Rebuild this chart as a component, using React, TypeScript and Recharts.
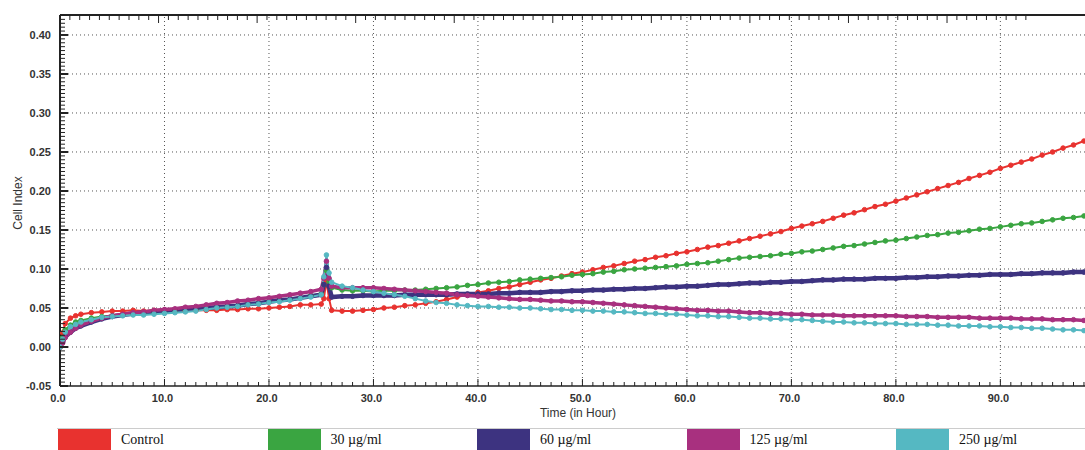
import { LineChart, Line, XAxis, YAxis, ReferenceLine } from 'recharts';

// sampling times (hours)
const HOURS = [
  0, 0.25, 0.5, 1, 1.5, 2,
  3, 4, 5, 6, 7, 8, 9, 10, 11, 12,
  13, 14, 15, 16, 17, 18, 19, 20, 21, 22,
  23, 24, 25,
  25.25, 25.5, 25.75, 26,
  27, 28, 29, 30, 31, 32, 33, 34, 35, 36,
  37, 38, 39, 40, 41, 42, 43, 44, 45, 46,
  47, 48, 49, 50, 51, 52, 53, 54, 55, 56,
  57, 58, 59, 60, 61, 62, 63, 64, 65, 66,
  67, 68, 69, 70, 71, 72, 73, 74, 75, 76,
  77, 78, 79, 80, 81, 82, 83, 84, 85, 86,
  87, 88, 89, 90, 91, 92, 93, 94, 95, 96,
  97, 98,
];

const CONTROL = [
  0, 0.018, 0.03, 0.037, 0.04, 0.042,
  0.044, 0.045, 0.046, 0.046, 0.047, 0.046, 0.047, 0.047, 0.047, 0.046,
  0.047, 0.047, 0.047, 0.048, 0.048, 0.049, 0.049, 0.05, 0.051, 0.052,
  0.054, 0.054, 0.055,
  0.062, 0.085, 0.062, 0.047,
  0.046, 0.046, 0.047, 0.048, 0.05, 0.051, 0.053, 0.054, 0.056, 0.058,
  0.061, 0.064, 0.067, 0.07, 0.072, 0.075, 0.077, 0.08, 0.083, 0.086,
  0.088, 0.091, 0.094, 0.096, 0.099, 0.102, 0.104, 0.107, 0.11, 0.112,
  0.115, 0.117, 0.12, 0.122, 0.125, 0.128, 0.13, 0.133, 0.136, 0.139,
  0.142, 0.145, 0.148, 0.152, 0.155, 0.158, 0.161, 0.165, 0.169, 0.172,
  0.176, 0.18, 0.183, 0.187, 0.191, 0.195, 0.199, 0.203, 0.207, 0.211,
  0.216, 0.22, 0.224, 0.229, 0.233, 0.237, 0.241, 0.246, 0.25, 0.255,
  0.259, 0.264,
];

const DOSE_30 = [
  0, 0.012, 0.022, 0.028, 0.032, 0.034,
  0.037, 0.039, 0.04, 0.041, 0.042, 0.043, 0.044, 0.045, 0.046, 0.047,
  0.048, 0.05, 0.051, 0.052, 0.053, 0.055, 0.056, 0.058, 0.06, 0.061,
  0.063, 0.066, 0.068,
  0.08, 0.098, 0.084, 0.076,
  0.073, 0.072, 0.072, 0.071, 0.072, 0.072, 0.073, 0.073, 0.074, 0.075,
  0.076, 0.077, 0.079, 0.08, 0.082, 0.083, 0.084, 0.086, 0.087, 0.088,
  0.089, 0.09, 0.092, 0.093, 0.094, 0.096, 0.097, 0.099, 0.1, 0.101,
  0.102, 0.103, 0.104, 0.106, 0.107, 0.108, 0.11, 0.112, 0.114, 0.115,
  0.116, 0.117, 0.119, 0.12, 0.122, 0.123, 0.125, 0.127, 0.129, 0.13,
  0.132, 0.134, 0.136, 0.137, 0.139, 0.141, 0.143, 0.144, 0.146, 0.147,
  0.149, 0.151, 0.152, 0.154, 0.156, 0.158, 0.159, 0.161, 0.163, 0.165,
  0.166, 0.168,
];

const DOSE_60 = [
  0, 0.006, 0.013, 0.019, 0.024, 0.027,
  0.032, 0.036, 0.039, 0.041, 0.043, 0.044, 0.045, 0.046, 0.047, 0.048,
  0.049, 0.05, 0.051, 0.052, 0.053, 0.055, 0.056, 0.058, 0.06, 0.061,
  0.063, 0.065, 0.067,
  0.08, 0.102, 0.078, 0.064,
  0.065, 0.065, 0.066, 0.066, 0.066, 0.066, 0.067, 0.067, 0.067, 0.067,
  0.067, 0.068, 0.068, 0.068, 0.068, 0.069, 0.069, 0.07, 0.07, 0.07,
  0.071, 0.071, 0.072, 0.072, 0.073, 0.073, 0.074, 0.074, 0.075, 0.075,
  0.076, 0.077, 0.077, 0.078, 0.078, 0.079, 0.08, 0.08, 0.081, 0.082,
  0.082, 0.083, 0.083, 0.084, 0.084, 0.085, 0.086, 0.086, 0.087, 0.087,
  0.087, 0.088, 0.088, 0.088, 0.089, 0.089, 0.09, 0.09, 0.091, 0.091,
  0.092, 0.092, 0.093, 0.093, 0.093, 0.094, 0.094, 0.095, 0.095, 0.095,
  0.096, 0.096,
];

const DOSE_125 = [
  0, 0.005, 0.012, 0.019, 0.024, 0.028,
  0.033, 0.037, 0.04, 0.042, 0.044, 0.045, 0.047, 0.048, 0.049, 0.051,
  0.052, 0.054, 0.056, 0.057, 0.059, 0.06, 0.062, 0.063, 0.065, 0.067,
  0.069, 0.071, 0.074,
  0.088, 0.11, 0.088, 0.078,
  0.076, 0.076, 0.076, 0.076, 0.075, 0.074, 0.073, 0.072, 0.071, 0.07,
  0.069, 0.067, 0.066, 0.065, 0.064, 0.063, 0.062, 0.061, 0.061, 0.06,
  0.059, 0.059, 0.058, 0.058, 0.057, 0.056, 0.055, 0.054, 0.053, 0.052,
  0.051, 0.05, 0.049, 0.048, 0.047, 0.047, 0.046, 0.046, 0.045, 0.044,
  0.044, 0.043, 0.043, 0.042, 0.042, 0.041, 0.041, 0.041, 0.04, 0.04,
  0.04, 0.04, 0.04, 0.04, 0.039, 0.039, 0.039, 0.038, 0.038, 0.038,
  0.038, 0.037, 0.037, 0.037, 0.037, 0.036, 0.036, 0.036, 0.035, 0.035,
  0.035, 0.034,
];

const DOSE_250 = [
  0, 0.01, 0.019, 0.026, 0.029, 0.032,
  0.035, 0.038, 0.039, 0.04, 0.041, 0.041, 0.042, 0.043, 0.044, 0.045,
  0.046, 0.048, 0.05, 0.051, 0.052, 0.054, 0.055, 0.057, 0.058, 0.06,
  0.062, 0.064, 0.067,
  0.09, 0.118, 0.095, 0.083,
  0.078, 0.076, 0.073, 0.071, 0.069, 0.067, 0.065, 0.062, 0.059, 0.057,
  0.056, 0.054, 0.053, 0.052, 0.052, 0.051, 0.051, 0.05, 0.05, 0.049,
  0.048, 0.048, 0.047, 0.047, 0.046, 0.046, 0.045, 0.045, 0.044, 0.043,
  0.043, 0.042, 0.042, 0.041, 0.04, 0.04, 0.039, 0.039, 0.038, 0.037,
  0.037, 0.036, 0.036, 0.035, 0.035, 0.034, 0.033, 0.032, 0.032, 0.031,
  0.031, 0.03, 0.03, 0.03, 0.029, 0.029, 0.029, 0.028, 0.028, 0.027,
  0.027, 0.027, 0.026, 0.026, 0.025, 0.025, 0.024, 0.024, 0.023, 0.022,
  0.022, 0.021,
];

const SERIES = [
  { key: 'control', name: 'Control', color: '#e8322f', values: CONTROL, width: 2 },
  { key: 'd30', name: '30 µg/ml', color: '#3aa541', values: DOSE_30, width: 2 },
  { key: 'd60', name: '60 µg/ml', color: '#3d3380', values: DOSE_60, width: 4.5 },
  { key: 'd125', name: '125 µg/ml', color: '#a8307f', values: DOSE_125, width: 3.5 },
  { key: 'd250', name: '250 µg/ml', color: '#55b8c2', values: DOSE_250, width: 2 },
];

const X_MAJOR = [0, 10, 20, 30, 40, 50, 60, 70, 80, 90];
const Y_MAJOR = [-0.05, 0, 0.05, 0.1, 0.15, 0.2, 0.25, 0.3, 0.35, 0.4];
const X_MINOR = Array.from({ length: 99 }, (_, i) => i);
const Y_MINOR = Array.from({ length: 96 }, (_, i) => Math.round((-0.05 + i * 0.005) * 1000) / 1000);

const X_DOMAIN: [number, number] = [0, 98.1];
const Y_DOMAIN: [number, number] = [-0.05, 0.4256];

const data = HOURS.map((h, i) => {
  const row: Record<string, number> = { h };
  SERIES.forEach((s) => (row[s.key] = s.values[i]));
  return row;
});

const AXIS = '#222';
const LABEL_FONT = '"Liberation Sans", Arial, sans-serif';
const isYMajor = (v: number) => Y_MAJOR.some((m) => Math.abs(m - v) < 1e-6);

function BottomTick({ x, y, payload }: any) {
  const major = X_MAJOR.includes(payload.value);
  return (
    <g>
      <line x1={x} x2={x} y1={y} y2={y - (major ? 7 : 4)} stroke={AXIS} strokeWidth={1} />
      {major && (
        <text x={x - 2} y={y + 16} textAnchor="middle" fontSize={11} fontWeight="bold"
          fontFamily={LABEL_FONT} fill="#333">
          {payload.value.toFixed(1)}
        </text>
      )}
    </g>
  );
}

function TopTick({ x, y, payload }: any) {
  const major = X_MAJOR.includes(payload.value);
  return <line x1={x} x2={x} y1={y} y2={y + (major ? 8 : 5)} stroke={AXIS} strokeWidth={1} />;
}

function LeftTick({ x, y, payload }: any) {
  const major = isYMajor(payload.value);
  return (
    <g>
      <line x1={x} x2={x + (major ? 8 : 5)} y1={y} y2={y} stroke={AXIS} strokeWidth={major ? 2 : 1} />
      {major && (
        <text x={x - 9} y={y + 4} textAnchor="end" fontSize={11} fontWeight="bold"
          fontFamily={LABEL_FONT} fill="#333">
          {payload.value.toFixed(2)}
        </text>
      )}
    </g>
  );
}

export default function App() {
  return (
    <div style={{ position: 'absolute', left: 0, top: 0, width: 1085, height: 450, background: '#fff', overflow: 'hidden' }}>
      <LineChart width={1085} height={428} data={data} margin={{ top: 0, right: 0, bottom: 0, left: 0 }}>
        <XAxis
          xAxisId="top"
          orientation="top"
          type="number"
          domain={X_DOMAIN}
          ticks={X_MINOR}
          interval={0}
          height={15}
          tickSize={0}
          tickMargin={0}
          tickLine={false}
          tick={TopTick}
          axisLine={{ stroke: AXIS, strokeWidth: 2 }}
          allowDataOverflow
        />
        <XAxis
          dataKey="h"
          type="number"
          domain={X_DOMAIN}
          ticks={X_MINOR}
          interval={0}
          height={42}
          tickSize={0}
          tickMargin={0}
          tickLine={false}
          tick={BottomTick}
          axisLine={{ stroke: AXIS, strokeWidth: 1.5 }}
          allowDataOverflow
        />
        <YAxis
          type="number"
          domain={Y_DOMAIN}
          ticks={Y_MINOR}
          interval={0}
          width={60}
          tickSize={0}
          tickMargin={0}
          tickLine={false}
          tick={LeftTick}
          axisLine={{ stroke: AXIS, strokeWidth: 2 }}
          allowDataOverflow
        />
        {X_MAJOR.filter((v) => v > 0).map((v) => (
          <ReferenceLine key={'vx' + v} x={v} stroke="#555" strokeWidth={1} strokeDasharray="1 3" />
        ))}
        {Y_MAJOR.filter((v) => v > -0.05).map((v) => (
          <ReferenceLine key={'hy' + v} y={v} stroke="#555" strokeWidth={1} strokeDasharray="1 3" />
        ))}
        {SERIES.map((s) => (
          <Line
            key={s.key}
            dataKey={s.key}
            name={s.name}
            type="linear"
            stroke={s.color}
            strokeWidth={s.width}
            dot={{ r: 2.3, fill: s.color, stroke: s.color, strokeWidth: 1 }}
            isAnimationActive={false}
          />
        ))}
      </LineChart>

      <div style={{ position: 'absolute', left: 18, top: 203, transform: 'translate(-50%, -50%) rotate(-90deg)',
        fontFamily: LABEL_FONT, fontSize: 12, color: '#333', whiteSpace: 'nowrap' }}>
        Cell Index
      </div>
      <div style={{ position: 'absolute', left: 578, top: 413, transform: 'translate(-50%, -50%)',
        fontFamily: LABEL_FONT, fontSize: 12, color: '#333', whiteSpace: 'nowrap' }}>
        Time (in Hour)
      </div>

      <div style={{ position: 'absolute', left: 57, right: 0, top: 428, height: 1, background: '#ccc' }} />
      {SERIES.map((s, i) => (
        <div key={s.key} style={{ position: 'absolute', left: 58 + i * 209.5, top: 429, height: 22, display: 'flex', alignItems: 'center' }}>
          <div style={{ width: 53, height: 22, background: s.color }} />
          <span style={{ marginLeft: 10, fontFamily: '"Liberation Serif", "Times New Roman", serif', fontSize: 14, color: '#111' }}>
            {s.name}
          </span>
        </div>
      ))}
    </div>
  );
}
